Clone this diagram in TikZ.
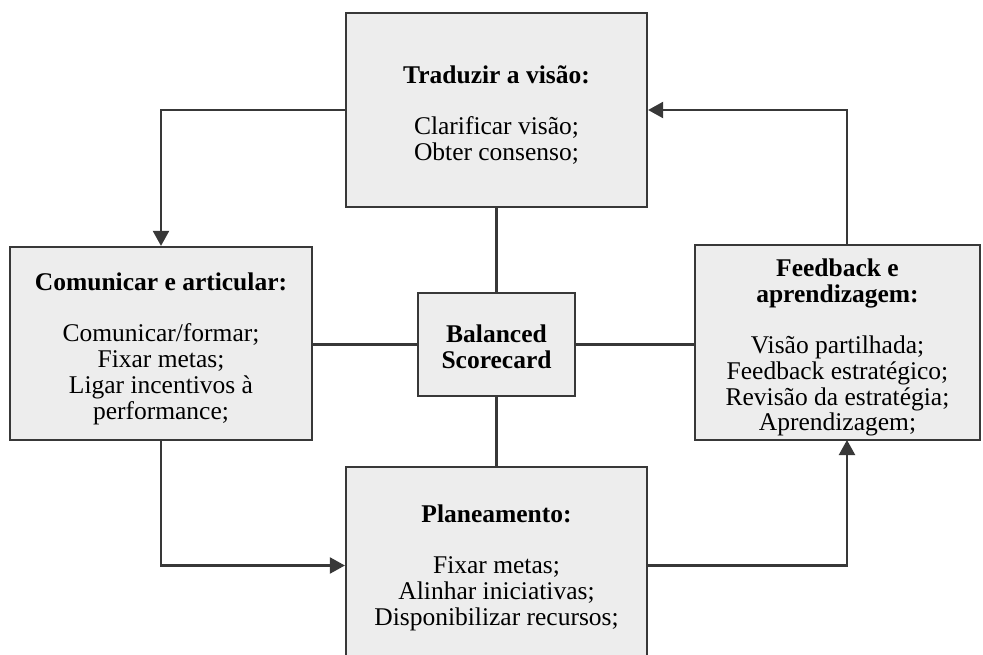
\documentclass[tikz,border=0pt]{standalone}
\usepackage{fontspec}
\setmainfont{Liberation Serif}
\usetikzlibrary{arrows.meta}
\definecolor{edge}{HTML}{383838}
\definecolor{boxfill}{HTML}{EDEDED}
\newcommand{\topstrut}{\rule{0pt}{28pt}}
\tikzset{
  box/.style={draw=edge, fill=boxfill, line width=2.2pt, rectangle, inner sep=0pt, align=center,
    font=\fontsize{25.5}{25.7}\selectfont},
  link/.style={draw=edge, line width=2.2pt},
  arrowlink/.style={link, -{Triangle[length=15pt,width=16pt]}}
}
\begin{document}
\begin{tikzpicture}[x=1pt,y=-1pt]
\useasboundingbox (0,0) rectangle (983,655);
\clip (0,0) rectangle (983,655);
\node[box, minimum width=301pt, minimum height=194pt] (top) at (496.5,110)
  {\topstrut\textbf{Traduzir a visão:}\\[25.7pt]Clarificar visão;\\Obter consenso;};
\node[box, minimum width=302pt, minimum height=193pt] (left) at (161,343.5)
  {\topstrut\textbf{Comunicar e articular:}\\[25.7pt]Comunicar/formar;\\Fixar metas;\\Ligar incentivos à\\performance;};
\node[box, minimum width=285pt, minimum height=195pt] (right) at (837.5,342.5)
  {\topstrut\textbf{Feedback e}\\\textbf{aprendizagem:}\\[25.7pt]Visão partilhada;\\Feedback estratégico;\\Revisão da estratégia;\\Aprendizagem;};
\node[box, minimum width=301pt, minimum height=197pt] (bottom) at (496.5,565.5)
  {\rule{0pt}{22pt}\textbf{Planeamento:}\\[25.7pt]Fixar metas;\\Alinhar iniciativas;\\Disponibilizar recursos;};
\node[box, minimum width=157pt, minimum height=103pt] (bsc) at (496.5,344.5)
  {\rule{0pt}{22pt}\textbf{Balanced}\\\textbf{Scorecard}};
\coordinate (rb) at (847,440);
\coordinate (rt) at (847,245);
\draw[link] (top.south) -- (bsc.north);
\draw[link] (bsc.south) -- (bottom.north);
\draw[link] (bsc.west) -- (bsc.west -| left.east);
\draw[link] (bsc.east) -- (bsc.east -| right.west);
\draw[arrowlink] (top.west) -| (left.north);
\draw[arrowlink] (left.south) |- (bottom.west);
\draw[arrowlink] (bottom.east) -| (rb);
\draw[arrowlink] (rt) |- (top.east);
\end{tikzpicture}
\end{document}
